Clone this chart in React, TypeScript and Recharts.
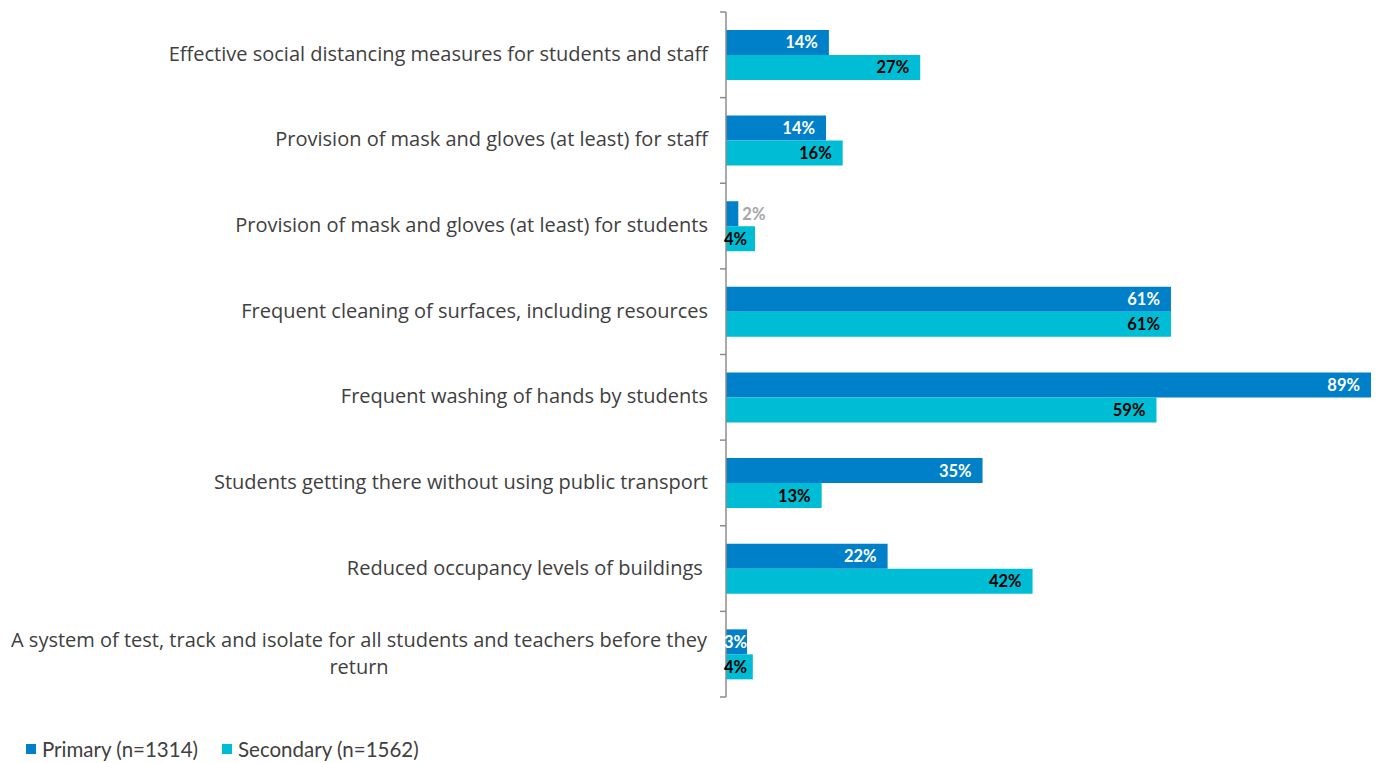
import { Bar, BarChart, LabelList, XAxis, YAxis } from "recharts";

const categories = [
  "Effective social distancing measures for students and staff",
  "Provision of mask and gloves (at least) for staff",
  "Provision of mask and gloves (at least) for students",
  "Frequent cleaning of surfaces, including resources",
  "Frequent washing of hands by students",
  "Students getting there without using public transport",
  "Reduced occupancy levels of buildings ",
  "A system of test, track and isolate for all students and teachers before they\nreturn",
];

const primary = [14.2, 13.8, 1.7, 61.4, 89.0, 35.4, 22.3, 2.9];
const secondary = [26.8, 16.1, 4.0, 61.4, 59.4, 13.2, 42.3, 3.7];

const seriesNames = ["Primary (n=1314)", "Secondary (n=1562)"];

const data = categories.map((name, i) => ({
  name,
  primary: primary[i],
  secondary: secondary[i],
}));

const PRIMARY = "#0080c8";
const SECONDARY = "#00bdd6";
const TEXT = "#404040";
const AXIS = "#8c8c8c";
const FONT = "'Open Sans', Lato, sans-serif";
const LABEL_FONT = "Lato, sans-serif";

function CategoryTick(props: any) {
  const { x, y, payload, index } = props;
  const half = payload && payload.offset ? payload.offset : 42.8;
  const ax = x + 8;
  const lines = String(payload.value).split("\n");
  const edge = (
    <g>
      <line x1={ax} x2={ax - 6} y1={y - half} y2={y - half} stroke={AXIS} strokeWidth={1.5} />
      {index === categories.length - 1 && (
        <line x1={ax} x2={ax - 6} y1={y + half} y2={y + half} stroke={AXIS} strokeWidth={1.5} />
      )}
    </g>
  );
  if (lines.length === 1) {
    return (
      <g>
        {edge}
        <text
          x={x - 10}
          y={y}
          dy={6}
          textAnchor="end"
          fill={TEXT}
          fontFamily={FONT}
          fontSize={20}
          style={{ whiteSpace: "pre" }}
        >
          {lines[0]}
        </text>
      </g>
    );
  }
  return (
    <g>
      {edge}
      <text x={x - 359} y={y} textAnchor="middle" fill={TEXT} fontFamily={FONT} fontSize={20}>
        {lines.map((l, i) => (
          <tspan key={i} x={x - 359} dy={i === 0 ? 6 - 13.5 : 27}>
            {l}
          </tspan>
        ))}
      </text>
    </g>
  );
}

function makeLabel(kind: "primary" | "secondary") {
  return (props: any) => {
    const { x, y, width, height, value } = props;
    const text = `${Math.round(value)}%`;
    const textW = text.length * 10.5;
    const cy = y + height / 2 + 6;
    if (kind === "primary" && value < 2.5) {
      return (
        <text x={x + width + 4} y={cy} fill="#a6a6a6" fontFamily={LABEL_FONT} fontWeight={700} fontSize={16.5}>
          {text}
        </text>
      );
    }
    const pad = Math.max(0, Math.min(11, width - textW));
    return (
      <text
        x={x + width - pad}
        y={cy}
        textAnchor="end"
        fill={kind === "primary" ? "#ffffff" : "#000000"}
        fontFamily={LABEL_FONT}
        fontWeight={700}
        fontSize={16.5}
      >
        {text}
      </text>
    );
  };
}

export default function App() {
  return (
    <div style={{ position: "absolute", left: 0, top: 0, width: 1378, height: 763, background: "#fff" }}>
      <BarChart
        width={1378}
        height={763}
        data={data}
        layout="vertical"
        margin={{ top: 12, right: 7, left: 0, bottom: 66 }}
        barCategoryGap="21%"
        barGap={0}
      >
        <XAxis type="number" domain={[0, 89]} hide />
        <YAxis
          type="category"
          dataKey="name"
          width={726}
          axisLine={{ stroke: AXIS, strokeWidth: 1.5 }}
          tickLine={false}
          tick={<CategoryTick />}
          interval={0}
        />
        <Bar dataKey="primary" fill={PRIMARY} isAnimationActive={false}>
          <LabelList dataKey="primary" content={makeLabel("primary")} />
        </Bar>
        <Bar dataKey="secondary" fill={SECONDARY} isAnimationActive={false}>
          <LabelList dataKey="secondary" content={makeLabel("secondary")} />
        </Bar>
      </BarChart>
      <div
        style={{
          position: "absolute",
          left: 26,
          top: 737,
          display: "flex",
          gap: 24,
          fontFamily: LABEL_FONT,
          fontSize: 20.5,
          color: TEXT,
        }}
      >
        {seriesNames.map((n, i) => (
          <div key={n} style={{ display: "flex", alignItems: "center" }}>
            <span
              style={{
                width: 10,
                height: 10,
                background: i === 0 ? PRIMARY : SECONDARY,
                marginRight: 6,
                display: "inline-block",
              }}
            />
            {n}
          </div>
        ))}
      </div>
    </div>
  );
}
